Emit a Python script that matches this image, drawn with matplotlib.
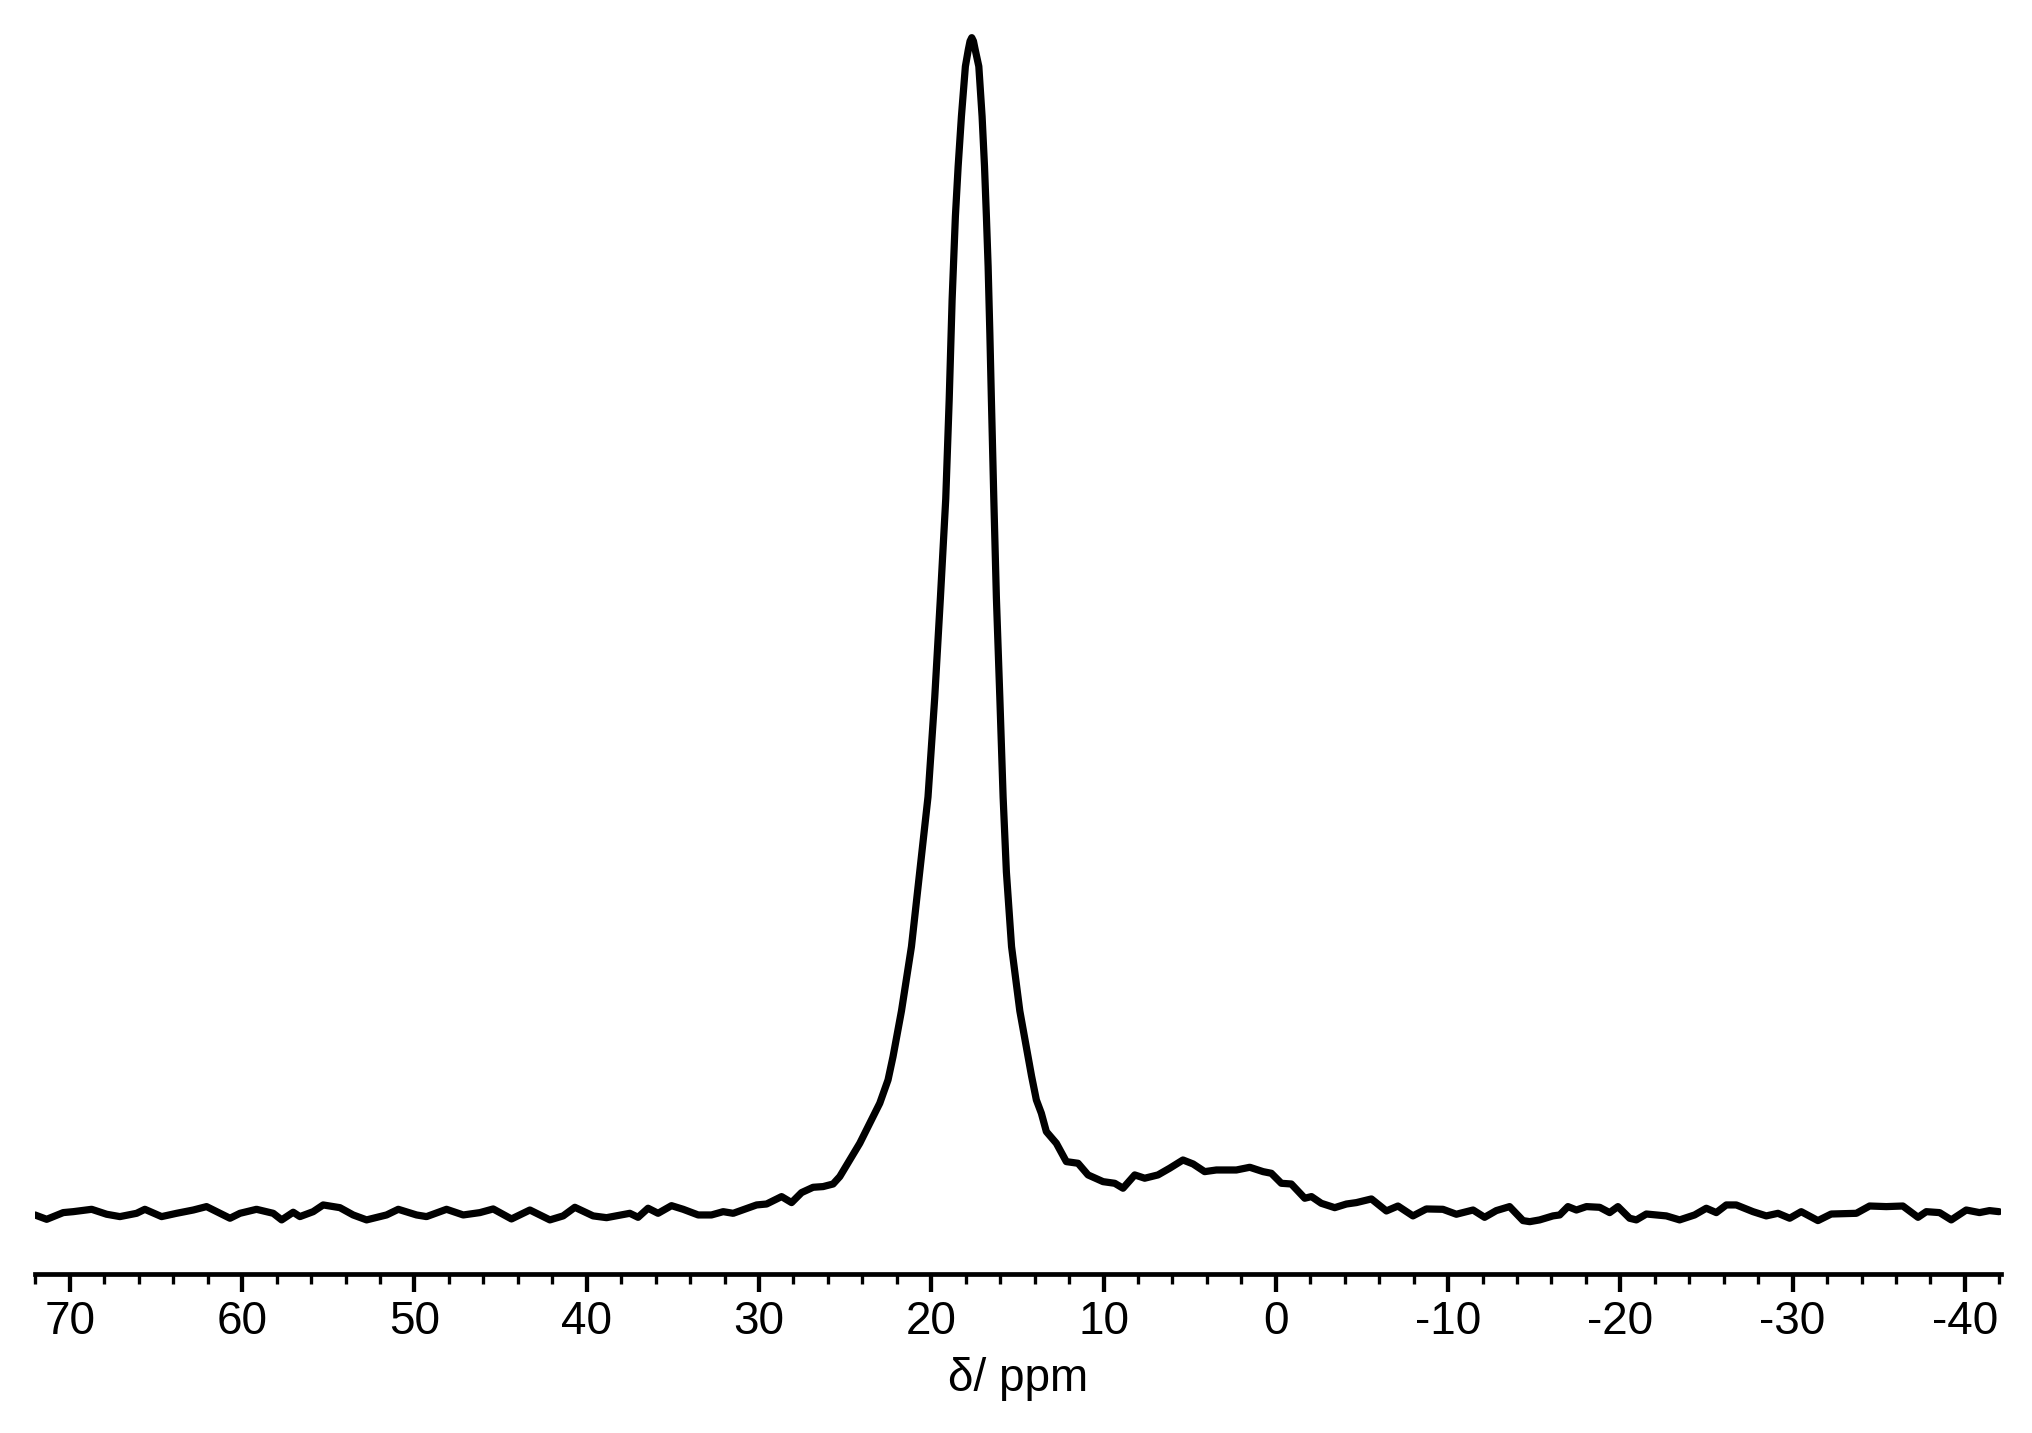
import matplotlib
matplotlib.use("Agg")
import matplotlib.pyplot as plt
from matplotlib.ticker import MultipleLocator

plt.rcParams["font.family"] = ["Liberation Sans", "DejaVu Sans"]
plt.rcParams["axes.unicode_minus"] = False

# baseline, high-shift side
ppm_left = [72.03, 71.35, 70.39, 69.81, 68.74, 67.87, 67.10, 66.13, 65.65, 64.68,
            63.81, 62.84, 62.07, 60.71, 60.13, 59.17, 58.20, 57.71, 57.04, 56.65,
            55.88, 55.30, 54.33, 53.56, 52.78, 51.62, 50.94, 49.88, 49.30, 48.14,
            47.17, 46.20, 45.43, 44.37]
int_left = [0.00, -0.37, 0.20, 0.28, 0.48, 0.06, -0.14, 0.14, 0.48, -0.14,
            0.14, 0.42, 0.71, -0.28, 0.14, 0.48, 0.14, -0.42, 0.23, -0.14,
            0.28, 0.85, 0.62, 0.00, -0.42, 0.00, 0.48, 0.00, -0.14, 0.48,
            0.00, 0.20, 0.51, -0.34]

# rising edge
ppm_rise = [43.30, 42.14, 41.37, 40.69, 39.63, 38.85, 37.50, 37.02, 36.44, 35.86,
            35.08, 34.40, 33.53, 32.76, 32.08, 31.50, 30.14, 29.56, 28.69, 28.11,
            27.53, 26.86, 26.28, 25.70, 25.31, 24.73, 24.15, 23.57, 22.99, 22.51,
            22.22, 21.93]
int_rise = [0.42, -0.42, -0.08, 0.65, -0.08, -0.23, 0.14, -0.20, 0.57, 0.14,
            0.79, 0.48, 0.00, 0.00, 0.28, 0.14, 0.85, 0.93, 1.56, 1.05,
            1.90, 2.35, 2.41, 2.63, 3.26, 4.67, 6.09, 7.79, 9.49, 11.47,
            13.45, 15.72]

# main peak
ppm_peak = [21.73, 21.15, 20.67, 20.19, 19.80, 19.47, 19.16, 18.96, 18.79, 18.60,
            18.44, 18.25, 18.02, 17.85, 17.75, 17.65, 17.55, 17.45, 17.24, 17.05,
            16.91, 16.80, 16.70, 16.60, 16.51, 16.37, 16.22, 16.02, 15.83, 15.64,
            15.34, 14.86, 14.18]
int_peak = [17.33, 22.80, 29.14, 35.51, 43.93, 52.42, 60.83, 69.24, 77.74, 84.82,
            89.07, 93.31, 97.56, 98.98, 99.70, 100.0, 99.70, 98.98, 97.56, 93.31,
            89.07, 84.82, 80.57, 74.91, 69.24, 60.83, 52.42, 43.93, 35.51, 29.14,
            22.80, 17.33, 11.81]

# tail with shoulder
ppm_tail = [13.90, 13.61, 13.32, 12.74, 12.16, 11.48, 10.90, 10.03, 9.35, 8.87,
            8.19, 7.61, 6.84, 6.16, 5.39, 4.80, 4.13, 3.45, 2.29, 1.51,
            0.74, 0.26, -0.32, -0.90, -1.68, -2.07, -2.64, -3.42, -4.10, -4.68,
            -5.55, -6.42, -7.09, -7.96, -8.74, -9.70, -10.48, -11.45, -12.12, -12.80,
            -13.57, -14.35, -14.74]
int_tail = [9.77, 8.64, 7.08, 6.09, 4.53, 4.39, 3.40, 2.83, 2.69, 2.27,
            3.40, 3.12, 3.40, 3.97, 4.67, 4.33, 3.68, 3.82, 3.82, 4.05,
            3.68, 3.54, 2.69, 2.63, 1.42, 1.56, 0.99, 0.62, 0.93, 1.05,
            1.36, 0.34, 0.76, -0.08, 0.51, 0.48, 0.06, 0.42, -0.20, 0.37,
            0.71, -0.48, -0.57]

# baseline, low-shift side
ppm_right = [-15.32, -16.09, -16.48, -16.96, -17.45, -18.03, -18.80, -19.38, -19.86, -20.54,
             -20.93, -21.51, -22.09, -22.67, -23.44, -24.31, -24.99, -25.57, -26.15, -26.73,
             -27.70, -28.47, -29.15, -29.83, -30.50, -31.47, -32.24, -33.70, -34.47, -35.44,
             -36.40, -37.28, -37.76, -38.53, -39.21, -40.08, -40.85, -41.43, -41.98]
int_right = [-0.42, -0.08, 0.00, 0.71, 0.42, 0.71, 0.65, 0.20, 0.71, -0.28,
             -0.42, 0.08, 0.00, -0.08, -0.42, 0.00, 0.57, 0.20, 0.85, 0.85,
             0.28, -0.08, 0.14, -0.28, 0.28, -0.48, 0.08, 0.14, 0.76, 0.71,
             0.76, -0.20, 0.28, 0.20, -0.42, 0.42, 0.20, 0.37, 0.28]

ppm = ppm_left + ppm_rise + ppm_peak + ppm_tail + ppm_right
intensity = int_left + int_rise + int_peak + int_tail + int_right

fig = plt.figure(figsize=(20.33, 14.33), dpi=100)
ax = fig.add_axes([0.0172, 0.1110, 0.9670, 0.8890])

ax.plot(ppm, intensity, color="black", linewidth=5.2,
        solid_joinstyle="round", solid_capstyle="round")

ax.set_xlim(72.03, -42.09)
ax.set_ylim(-5.01, 103.2)

for side in ["left", "right", "top"]:
    ax.spines[side].set_visible(False)
ax.spines["bottom"].set_linewidth(3.4)
ax.set_yticks([])

ax.xaxis.set_major_locator(MultipleLocator(10))
ax.xaxis.set_minor_locator(MultipleLocator(2))
ax.tick_params(axis="x", which="major", length=13, width=3.1, labelsize=33, pad=6)
ax.tick_params(axis="x", which="minor", length=7, width=2.4)

ax.set_xlabel("δ/ ppm", fontsize=33, labelpad=9)

fig.savefig("out.png", dpi=100)
